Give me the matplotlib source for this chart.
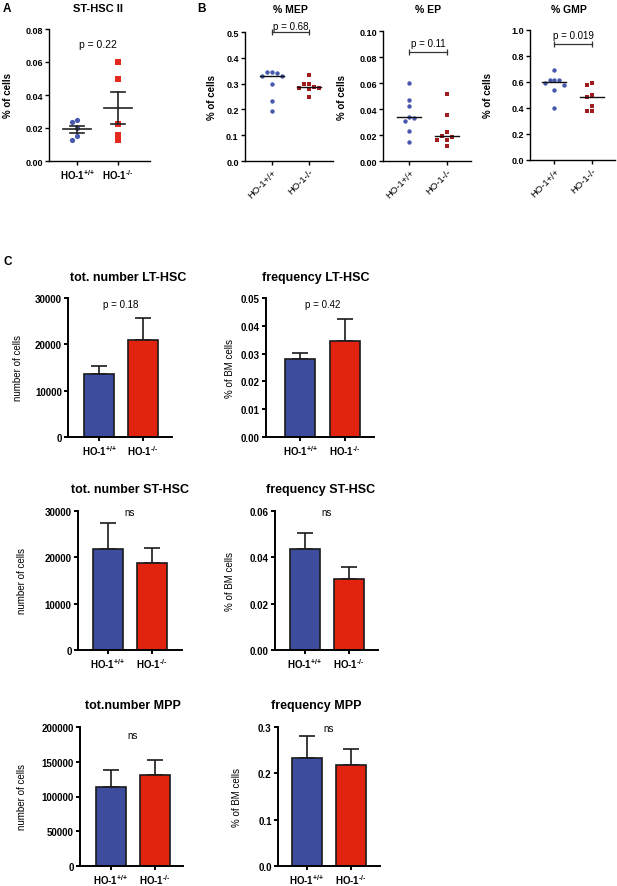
import numpy as np
import matplotlib.pyplot as plt
from matplotlib.ticker import FormatStrFormatter

plt.rcParams['font.family'] = ['Liberation Sans', 'DejaVu Sans']
plt.rcParams['mathtext.fontset'] = 'custom'
plt.rcParams['mathtext.rm'] = 'Liberation Sans:bold'
plt.rcParams['mathtext.bf'] = 'Liberation Sans:bold'
plt.rcParams['mathtext.it'] = 'Liberation Sans:italic'

W, H = 617, 887

# labels
groups_sup = [r'HO-1$^{\text{+/+}}$', r'HO-1$^{\text{-/-}}$']
groups_plain = ['HO-1+/+', 'HO-1-/-']

# panel A: ST-HSC II (% of cells)
sthsc2_wt = [0.0246, 0.0236, 0.0200, 0.0151, 0.0125]
sthsc2_ko = [0.0600, 0.0495, 0.0225, 0.0160, 0.0125]

# panel B: progenitors (% of cells)
mep_wt = [0.344, 0.344, 0.341, 0.331, 0.331, 0.298, 0.231, 0.195]
mep_ko = [0.334, 0.298, 0.297, 0.288, 0.283, 0.283, 0.279, 0.249]
ep_wt = [0.060, 0.047, 0.042, 0.034, 0.031, 0.033, 0.023, 0.015]
ep_ko = [0.0513, 0.0356, 0.0223, 0.0195, 0.0187, 0.0162, 0.0162, 0.0118]
gmp_wt = [0.692, 0.615, 0.615, 0.615, 0.592, 0.579, 0.538, 0.397]
gmp_ko = [0.592, 0.575, 0.502, 0.482, 0.413, 0.379, 0.374]
p_b = ['p = 0.68', 'p = 0.11', 'p = 0.019']

# panel C: mean and SEM, [HO-1+/+, HO-1-/-]
lt_num_mean = [13700, 20900]
lt_num_sem = [1550, 4800]
lt_freq_mean = [0.0280, 0.0345]
lt_freq_sem = [0.0021, 0.0078]
st_num_mean = [21900, 18700]
st_num_sem = [5450, 3250]
st_freq_mean = [0.0435, 0.0308]
st_freq_sem = [0.0072, 0.0052]
mpp_num_mean = [113000, 131500]
mpp_num_sem = [25500, 20300]
mpp_freq_mean = [0.233, 0.218]
mpp_freq_sem = [0.048, 0.035]

blue_bar = '#3D4C9C'
red_bar = '#E2230F'
blue_pt = '#4658AC'
red_pt_a = '#E5291E'
red_pt_b = '#A11C1E'

fig = plt.figure(figsize=(W / 100, H / 100), dpi=100)


def make_axes(l, t, r, b, ticks_px, ymax, ystep, fmt, lw, tick_fs):
    ax = fig.add_axes([l / W, 1 - b / H, (r - l) / W, (b - t) / H])
    t0, t1 = ticks_px
    ax.set_xlim((l - t0) / (t1 - t0), (r - t0) / (t1 - t0))
    ax.set_ylim(0, ymax)
    ax.set_yticks(np.arange(0, ymax + ystep / 2, ystep))
    ax.yaxis.set_major_formatter(FormatStrFormatter(fmt))
    ax.set_xticks([0, 1])
    for s in ['top', 'right']:
        ax.spines[s].set_visible(False)
    for s in ['left', 'bottom']:
        ax.spines[s].set_linewidth(lw)
    ax.tick_params(direction='out', width=lw, length=3, pad=1.5,
                   labelsize=tick_fs)
    for lab in ax.get_yticklabels():
        lab.set_fontweight('bold')
    ax.set_facecolor('none')
    return ax


def ylabel_at(ax, text, x_px, l, r, **kw):
    ax.set_ylabel(text, **kw)
    ax.yaxis.set_label_coords((x_px - l) / (r - l), 0.5)


def swarm(vals, ax, step_px):
    bb = ax.get_position()
    x0, x1 = ax.get_xlim()
    y0, y1 = ax.get_ylim()
    xs = bb.width * W / (x1 - x0)
    ys = bb.height * H / (y1 - y0)
    placed, offs = [], []
    for v in vals:
        yp = v * ys
        for k in [0, -1, 1, -2, 2, -3, 3]:
            xp = k * step_px
            if all(np.hypot(xp - a, yp - c) >= step_px * 0.99 for a, c in placed):
                break
        placed.append((xp, yp))
        offs.append(xp / xs)
    return np.array(offs)


def fig_text(x_px, y_px, s, **kw):
    fig.text(x_px / W, 1 - y_px / H, s, ha='center', va='center', **kw)


# ---------------- panel A ----------------
l, t, r, b = 49, 30, 150, 162
axA = make_axes(l, t, r, b, (77, 118), 0.08, 0.02, '%.2f', 1.0, 6.5)
axA.set_xticklabels(groups_sup, fontsize=7, fontweight='bold')
ylabel_at(axA, '% of cells', 13, l, r, fontsize=7, fontweight='bold')
for i, (vals, col, mk) in enumerate([(sthsc2_wt, blue_pt, 'o'), (sthsc2_ko, red_pt_a, 's')]):
    v = np.array(vals)
    dx = swarm(v, axA, 5.5)
    axA.scatter(i + dx, v, s=14, marker=mk, color=col, linewidths=0, zorder=2)
    m = v.mean()
    sem = v.std(ddof=1) / np.sqrt(len(v))
    axA.plot([i - 0.33, i + 0.33], [m, m], color='#222222', lw=1.2, zorder=3)
    axA.plot([i, i], [m - sem, m + sem], color='#222222', lw=1.2, zorder=3)
    for yy in (m - sem, m + sem):
        axA.plot([i - 0.18, i + 0.18], [yy, yy], color='#222222', lw=1.2, zorder=3)
axA.text(0.5, 0.0709, 'p = 0.22', ha='center', va='center', fontsize=7.5)
fig_text(98, 9, 'ST-HSC II', fontsize=8, fontweight='bold')
fig_text(7, 9, 'A', fontsize=8.5, fontweight='bold')

# ---------------- panel B ----------------
b_specs = [
    ((245, 33, 333, 162), (272, 309), 0.5, 0.1, '%.1f', mep_wt, mep_ko, 0.50, 0.525, 217, '% MEP', 290),
    ((383, 32, 471, 162), (409.3, 446.7), 0.10, 0.02, '%.2f', ep_wt, ep_ko, 0.0836, 0.0905, 347, '% EP', 428),
    ((530, 31, 615, 161), (554.3, 591.7), 1.0, 0.2, '%.1f', gmp_wt, gmp_ko, 0.892, 0.965, 493, '% GMP', 569),
]
for k, (bx, tk, ymax, ystep, fmt, wt, ko, br_y, p_y, yl_x, title, title_x) in enumerate(b_specs):
    l, t, r, b = bx
    ax = make_axes(l, t, r, b, tk, ymax, ystep, fmt, 1.0, 6.5)
    ax.set_xticklabels(groups_plain, fontsize=6.8, rotation=45, ha='right',
                       rotation_mode='anchor')
    ylabel_at(ax, '% of cells', yl_x, l, r, fontsize=7, fontweight='bold')
    for i, (vals, col, mk) in enumerate([(wt, blue_pt, 'o'), (ko, red_pt_b, 's')]):
        v = np.array(vals)
        dx = swarm(v, ax, 4.8)
        ax.scatter(i + dx, v, s=10, marker=mk, color=col, linewidths=0, zorder=2,
                   clip_on=False)
        med = np.median(v)
        ax.plot([i - 0.32, i + 0.32], [med, med], color='#111111', lw=1.0, zorder=3)
    ax.plot([0, 1], [br_y, br_y], color='#333333', lw=0.9, marker='|', ms=4,
            mew=0.9, clip_on=False)
    ax.text(0.5, p_y, p_b[k], ha='center', va='center', fontsize=7, clip_on=False)
    fig_text(title_x, 10, title, fontsize=7.5, fontweight='bold')
fig_text(201, 9, 'B', fontsize=8.5, fontweight='bold')

# ---------------- panel C ----------------
c_specs = [
    ((68, 299, 172, 438), (99, 143), 30000, 10000, '%d', lt_num_mean, lt_num_sem,
     'number of cells', 23, 'tot. number LT-HSC', 128, 278, 'p = 0.18', 28700),
    ((266, 299, 374, 438), (300, 345), 0.05, 0.01, '%.2f', lt_freq_mean, lt_freq_sem,
     '% of BM cells', 235, 'frequency LT-HSC', 316, 278, 'p = 0.42', 0.0478),
    ((78, 512, 182, 651), (107.7, 151.7), 30000, 10000, '%d', st_num_mean, st_num_sem,
     'number of cells', 27, 'tot. number ST-HSC', 130, 490, 'ns', 29700),
    ((275, 512, 378, 651), (304.7, 348.8), 0.06, 0.02, '%.2f', st_freq_mean, st_freq_sem,
     '% of BM cells', 235, 'frequency ST-HSC', 321, 490, 'ns', 0.0595),
    ((80, 728, 183, 867), (110.7, 155), 200000, 50000, '%d', mpp_num_mean, mpp_num_sem,
     'number of cells', 27, 'tot.number MPP', 133, 706, 'ns', 188500),
    ((278, 728, 380, 867), (306.7, 350.7), 0.3, 0.1, '%.1f', mpp_freq_mean, mpp_freq_sem,
     '% of BM cells', 242, 'frequency MPP', 316, 706, 'ns', 0.298),
]
for (bx, tk, ymax, ystep, fmt, mean, sem, ylab, yl_x, title, tx, ty, ptxt, p_y) in c_specs:
    l, t, r, b = bx
    ax = make_axes(l, t, r, b, tk, ymax, ystep, fmt, 1.4, 7)
    ax.set_xticklabels(groups_sup, fontsize=7, fontweight='bold')
    ylabel_at(ax, ylab, yl_x, l, r, fontsize=7)
    x = np.arange(2)
    ax.bar(x, mean, width=0.68, color=[blue_bar, red_bar], edgecolor='#1a1a1a',
           linewidth=1.2, zorder=2)
    ax.errorbar(x, mean, yerr=[np.zeros(2), sem], fmt='none', ecolor='#1a1a1a',
                elinewidth=1.2, capsize=5.5, capthick=1.2, zorder=1)
    ax.text(0.5, p_y, ptxt, ha='center', va='center', fontsize=7, clip_on=False)
    fig_text(tx, ty, title, fontsize=9, fontweight='bold')
fig_text(8, 262, 'C', fontsize=8.5, fontweight='bold')

fig.savefig('out.png', dpi=100)
